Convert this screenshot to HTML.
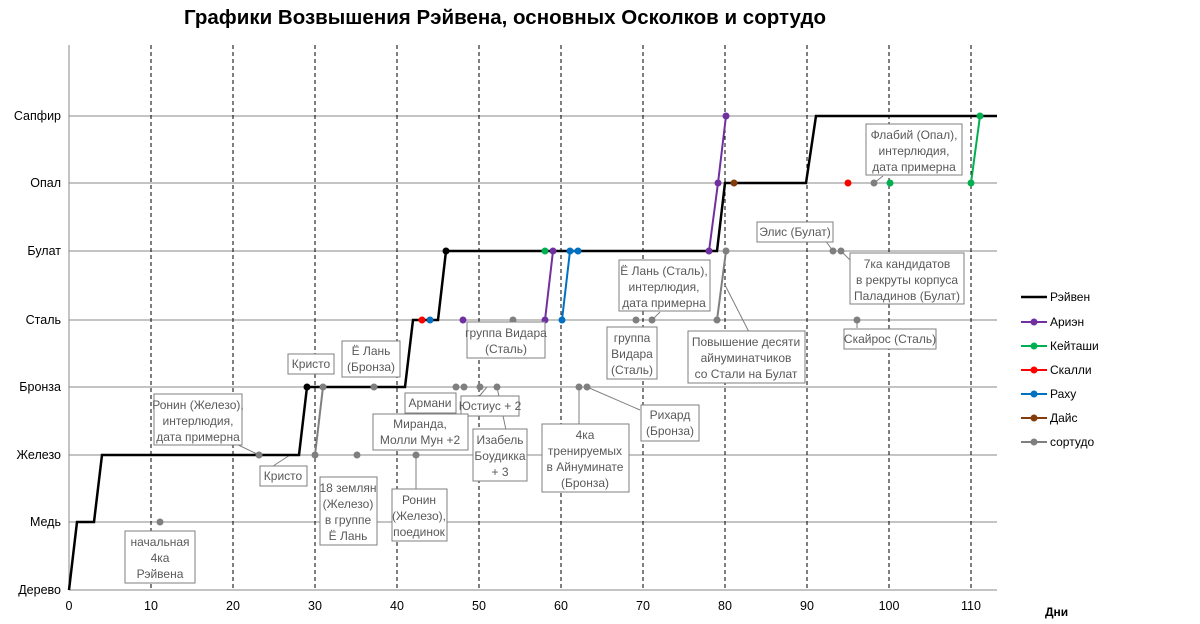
<!DOCTYPE html>
<html><head><meta charset="utf-8"><style>
body{margin:0;background:#fff;}
svg{display:block;font-family:"Liberation Sans",sans-serif;}
.lb rect{fill:#fff;stroke:#7f7f7f;stroke-width:1}
.lb text{fill:#595959;font-size:12px;text-anchor:middle}
.ax{font-size:12.5px;fill:#000}
</style></head><body>
<svg width="1200" height="624" viewBox="0 0 1200 624">
<text x="505" y="24" font-size="20" font-weight="bold" text-anchor="middle" textLength="642" lengthAdjust="spacingAndGlyphs">Графики Возвышения Рэйвена, основных Осколков и сортудо</text>
<!-- grid -->
<g stroke="#888" stroke-width="1">
<line x1="69" y1="116" x2="997" y2="116"/>
<line x1="69" y1="183" x2="997" y2="183"/>
<line x1="69" y1="251" x2="997" y2="251"/>
<line x1="69" y1="320" x2="997" y2="320"/>
<line x1="69" y1="387" x2="997" y2="387"/>
<line x1="69" y1="455" x2="997" y2="455"/>
<line x1="69" y1="522" x2="997" y2="522"/>
</g>
<g stroke="#000" stroke-width="1" stroke-dasharray="4,3">
<line x1="151" y1="45" x2="151" y2="590"/><line x1="233" y1="45" x2="233" y2="590"/>
<line x1="315" y1="45" x2="315" y2="590"/><line x1="397" y1="45" x2="397" y2="590"/>
<line x1="479" y1="45" x2="479" y2="590"/><line x1="561" y1="45" x2="561" y2="590"/>
<line x1="643" y1="45" x2="643" y2="590"/><line x1="725" y1="45" x2="725" y2="590"/>
<line x1="807" y1="45" x2="807" y2="590"/><line x1="889" y1="45" x2="889" y2="590"/>
<line x1="971" y1="45" x2="971" y2="590"/>
</g>
<line x1="69" y1="45" x2="69" y2="590" stroke="#888"/>
<line x1="69" y1="590" x2="997" y2="590" stroke="#888"/>
<g class="ax" text-anchor="middle">
<text x="69" y="610">0</text><text x="151" y="610">10</text><text x="233" y="610">20</text><text x="315" y="610">30</text><text x="397" y="610">40</text><text x="479" y="610">50</text><text x="561" y="610">60</text><text x="643" y="610">70</text><text x="725" y="610">80</text><text x="807" y="610">90</text><text x="889" y="610">100</text><text x="971" y="610">110</text>
</g>
<g class="ax" text-anchor="end">
<text x="61" y="120">Сапфир</text><text x="61" y="187">Опал</text><text x="61" y="255">Булат</text><text x="61" y="324">Сталь</text><text x="61" y="391">Бронза</text><text x="61" y="459">Железо</text><text x="61" y="526">Медь</text><text x="61" y="594">Дерево</text>
</g>
<text x="1045" y="616" font-size="12" font-weight="bold">Дни</text>
<!-- label leader lines -->
<g stroke="#7f7f7f" stroke-width="1" fill="none">
<line x1="228" y1="440" x2="259" y2="455"/><line x1="267" y1="470" x2="290" y2="455"/>
<line x1="416" y1="455" x2="416" y2="490"/>
<line x1="487" y1="387" x2="466" y2="412"/>
<line x1="497" y1="387" x2="506" y2="430"/>
<line x1="579" y1="387" x2="579" y2="425"/>
<line x1="587" y1="387" x2="640" y2="410"/>
<line x1="652" y1="320" x2="660" y2="312"/>
<line x1="725" y1="285" x2="749" y2="332"/>
<line x1="825" y1="240" x2="833" y2="251"/><line x1="841" y1="251" x2="850" y2="260"/>
<line x1="857" y1="320" x2="857" y2="328"/>
<line x1="874" y1="183" x2="883" y2="176"/>
</g>
<!-- series lines -->
<polyline fill="none" stroke="#000" stroke-width="2.5" points="69,590 77,522 94,522 102,455 299,455 307,387 405,387 413,320 438,320 446,251 717,251 725,183 806,183 816,116 997,116"/>
<polyline fill="none" stroke="#7f7f7f" stroke-width="2" points="315,455 323,387"/>
<polyline fill="none" stroke="#7f7f7f" stroke-width="2" points="717,320 726,251"/>
<polyline fill="none" stroke="#7030a0" stroke-width="2" points="545,320 553,251"/>
<polyline fill="none" stroke="#7030a0" stroke-width="2" points="709,251 718,183 726,116"/>
<polyline fill="none" stroke="#0070c0" stroke-width="2" points="562,320 570,251 578,251"/>
<polyline fill="none" stroke="#00b050" stroke-width="2" points="971,183 980,116"/>
<!-- points -->
<g fill="#7f7f7f">
<circle cx="160" cy="522" r="3.5"/><circle cx="259" cy="455" r="3.5"/><circle cx="315" cy="455" r="3.5"/><circle cx="323" cy="387" r="3.5"/><circle cx="357" cy="455" r="3.5"/><circle cx="374" cy="387" r="3.5"/><circle cx="416" cy="455" r="3.5"/><circle cx="456" cy="387" r="3.5"/><circle cx="464" cy="387" r="3.5"/><circle cx="480" cy="387" r="3.5"/><circle cx="497" cy="387" r="3.5"/><circle cx="513" cy="320" r="3.5"/><circle cx="579" cy="387" r="3.5"/><circle cx="587" cy="387" r="3.5"/><circle cx="636" cy="320" r="3.5"/><circle cx="652" cy="320" r="3.5"/><circle cx="717" cy="320" r="3.5"/><circle cx="726" cy="251" r="3.5"/><circle cx="833" cy="251" r="3.5"/><circle cx="841" cy="251" r="3.5"/><circle cx="857" cy="320" r="3.5"/><circle cx="874" cy="183" r="3.5"/>
</g>
<circle cx="307" cy="387" r="3.5" fill="#000"/><circle cx="446" cy="251" r="3.5" fill="#000"/>
<g fill="#7030a0"><circle cx="463" cy="320" r="3.5"/><circle cx="545" cy="320" r="3.5"/><circle cx="553" cy="251" r="3.5"/><circle cx="709" cy="251" r="3.5"/><circle cx="718" cy="183" r="3.5"/><circle cx="726" cy="116" r="3.5"/></g>
<g fill="#00b050"><circle cx="545" cy="251" r="3.5"/><circle cx="890" cy="183" r="3.5"/><circle cx="971" cy="183" r="3.5"/><circle cx="980" cy="116" r="3.5"/></g>
<g fill="#ff0000"><circle cx="422" cy="320" r="3.5"/><circle cx="848" cy="183" r="3.5"/></g>
<g fill="#0070c0"><circle cx="430" cy="320" r="3.5"/><circle cx="562" cy="320" r="3.5"/><circle cx="570" cy="251" r="3.5"/><circle cx="578" cy="251" r="3.5"/></g>
<circle cx="734" cy="183" r="3.5" fill="#843c0c"/>
<!-- labels -->
<g class="lb">
<rect x="125" y="531" width="70" height="52"/><text x="160" y="546">начальная</text><text x="160" y="562">4ка</text><text x="160" y="578">Рэйвена</text>
<rect x="154" y="394" width="88" height="51"/><text x="198" y="409">Ронин (Железо),</text><text x="198" y="425">интерлюдия,</text><text x="198" y="441">дата примерна</text>
<rect x="260" y="466" width="47" height="20"/><text x="283" y="480">Кристо</text>
<rect x="288" y="354" width="46" height="20"/><text x="311" y="368">Кристо</text>
<rect x="342" y="341" width="58" height="36"/><text x="371" y="355">Ё Лань</text><text x="371" y="371">(Бронза)</text>
<rect x="320" y="477" width="57" height="68"/><text x="348" y="492">18 землян</text><text x="348" y="508">(Железо)</text><text x="348" y="524">в группе</text><text x="348" y="540">Ё Лань</text>
<rect x="392" y="489" width="55" height="52"/><text x="419" y="504">Ронин</text><text x="419" y="520">(Железо),</text><text x="419" y="536">поединок</text>
<rect x="405" y="393" width="51" height="20"/><text x="430" y="407">Армани</text>
<rect x="461" y="396" width="58" height="20"/><text x="490" y="410">Юстиус + 2</text>
<rect x="373" y="414" width="95" height="36"/><text x="420" y="428">Миранда,</text><text x="420" y="444">Молли Мун +2</text>
<rect x="473" y="429" width="54" height="52"/><text x="500" y="444">Изабель</text><text x="500" y="460">Боудикка</text><text x="500" y="476">+ 3</text>
<rect x="542" y="424" width="87" height="68"/><text x="585" y="439">4ка</text><text x="585" y="455">тренируемых</text><text x="585" y="471">в Айнуминате</text><text x="585" y="487">(Бронза)</text>
<rect x="641" y="405" width="58" height="36"/><text x="670" y="419">Рихард</text><text x="670" y="435">(Бронза)</text>
<rect x="467" y="322" width="78" height="36"/><text x="506" y="337">группа Видара</text><text x="506" y="353">(Сталь)</text>
<rect x="607" y="327" width="50" height="52"/><text x="632" y="342">группа</text><text x="632" y="358">Видара</text><text x="632" y="374">(Сталь)</text>
<rect x="619" y="260" width="91" height="51"/><text x="664" y="275">Ё Лань (Сталь),</text><text x="664" y="291">интерлюдия,</text><text x="664" y="307">дата примерна</text>
<rect x="688" y="331" width="117" height="52"/><text x="746" y="346">Повышение десяти</text><text x="746" y="362">айнуминатчиков</text><text x="746" y="378">со Стали на Булат</text>
<rect x="757" y="222" width="76" height="20"/><text x="795" y="236">Элис (Булат)</text>
<rect x="850" y="253" width="114" height="51"/><text x="907" y="268">7ка кандидатов</text><text x="907" y="284">в рекруты корпуса</text><text x="907" y="300">Паладинов (Булат)</text>
<rect x="844" y="329" width="92" height="20"/><text x="890" y="343">Скайрос (Сталь)</text>
<rect x="866" y="124" width="96" height="51"/><text x="914" y="139">Флабий (Опал),</text><text x="914" y="155">интерлюдия,</text><text x="914" y="171">дата примерна</text>
</g>
<!-- legend -->
<g font-size="12" fill="#000">
<line x1="1021" y1="297" x2="1047" y2="297" stroke="#000" stroke-width="2.5"/><text x="1050" y="301">Рэйвен</text>
<line x1="1021" y1="322" x2="1047" y2="322" stroke="#7030a0" stroke-width="2"/><circle cx="1034" cy="322" r="3.5" fill="#7030a0"/><text x="1050" y="326">Ариэн</text>
<line x1="1021" y1="346" x2="1047" y2="346" stroke="#00b050" stroke-width="2"/><circle cx="1034" cy="346" r="3.5" fill="#00b050"/><text x="1050" y="350">Кейташи</text>
<line x1="1021" y1="370" x2="1047" y2="370" stroke="#ff0000" stroke-width="2"/><circle cx="1034" cy="370" r="3.5" fill="#ff0000"/><text x="1050" y="374">Скалли</text>
<line x1="1021" y1="394" x2="1047" y2="394" stroke="#0070c0" stroke-width="2"/><circle cx="1034" cy="394" r="3.5" fill="#0070c0"/><text x="1050" y="398">Раху</text>
<line x1="1021" y1="418" x2="1047" y2="418" stroke="#843c0c" stroke-width="2"/><circle cx="1034" cy="418" r="3.5" fill="#843c0c"/><text x="1050" y="422">Дайс</text>
<line x1="1021" y1="442" x2="1047" y2="442" stroke="#7f7f7f" stroke-width="2"/><circle cx="1034" cy="442" r="3.5" fill="#7f7f7f"/><text x="1050" y="446">сортудо</text>
</g>
</svg>
</body></html>
